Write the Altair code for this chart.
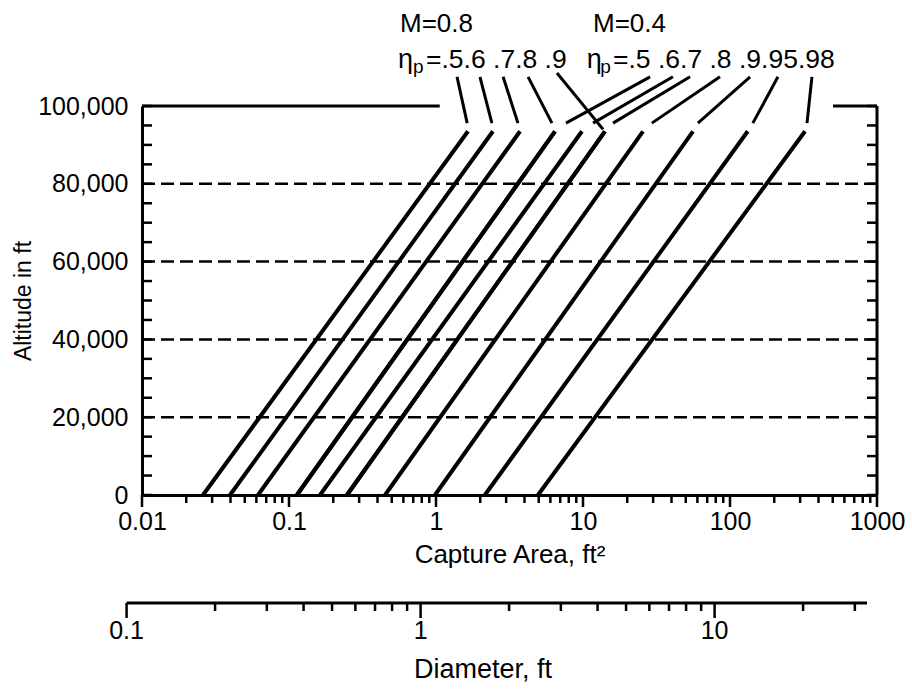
import altair as alt
import pandas as pd

W, H = 735, 389
FONT = "Liberation Sans"

# ---- series: Mach number, propeller efficiency, capture area at sea level and at top altitude
mach = ["0.8"] * 5 + ["0.4"] * 7
eta = [".5", ".6", ".7", ".8", ".9", ".5", ".6", ".7", ".8", ".9", ".95", ".98"]
area_sea_level = [0.0260, 0.0397, 0.0615, 0.1132, 0.248,
                  0.1132, 0.1626, 0.248, 0.450, 0.984, 2.15, 4.94]
area_top = [1.65, 2.44, 3.73, 6.45, 14.1,
            6.45, 9.84, 14.1, 25.6, 56.0, 132, 324]
alt_top = 93500

# ---- leader lines (label end -> curve end), capture area / altitude
leader_top_area = [1.39, 1.99, 2.86, 4.23, 6.65, 28.6, 40.9, 53.5, 85.5, 137, 212, 361]
leader_top_alt = [107500] * 4 + [108500] + [107500] * 7
leader_bot_area = [1.63, 2.40, 3.61, 6.15, 13.7, 7.66, 11.7, 16.0, 29.4, 60.5, 143, 334]
leader_bot_alt = [95600] * 4 + [94000] + [95600] * 7

# ---- annotation texts
ann_text = ["M=0.8", "M=0.4", "η", "η", "p", "p", "=.5.6 .7.8 .9", "=.5 .6.7 .8 .9.95.98"]
ann_area = [0.569, 11.7, 0.551, 10.6, 0.698, 13.1, 0.855, 16.0]
ann_alt = [121100, 121100, 111800, 111800, 110000, 110000, 111800, 111800]
ann_size = [26, 26, 27, 27, 19, 19, 26.5, 26.5]

# ---- axes
y_labels = [0, 20000, 40000, 60000, 80000, 100000]
y_minor = list(range(0, 100001, 5000))
grid_alts = [20000, 40000, 60000, 80000]
x_decades = [0.01, 0.1, 1, 10, 100, 1000]
x_minor = [m * d for d in [0.01, 0.1, 1, 10, 100] for m in range(2, 10)]
top_border_from = [0.01, 502]
top_border_to = [1.06, 1000]

diam_major = [0.1, 1, 10]
diam_minor = [m * d for d in [0.1, 1] for m in range(2, 10)] + [20, 30]
diam_labels = ["0.1", "1", "10"]
diam_line = [0.1, 33]
diam_title_D = 1.63

xs = alt.Scale(type="log", domain=[0.01, 1000])
ys = alt.Scale(domain=[0, 100000])

lines_df = pd.DataFrame({
    "series": [f"M={m} ηp={e}" for m, e in zip(mach, eta)] * 2,
    "area": area_sea_level + area_top,
    "altitude": [0] * len(mach) + [alt_top] * len(mach),
})

lines = alt.Chart(lines_df).mark_line(color="black", strokeWidth=4).encode(
    x=alt.X("area:Q", scale=xs, axis=alt.Axis(
        values=x_decades, format="~g", ticks=False, tickSize=0, grid=False,
        domainColor="black", domainWidth=3,
        labelFont=FONT, labelFontSize=25, labelColor="black",
        labelBaseline="middle", labelPadding=26, labelFlush=False,
        title="Capture Area, ft²", titleFont=FONT, titleFontSize=26,
        titleFontWeight="normal", titleColor="black",
        titleY=59, titleBaseline="middle")),
    y=alt.Y("altitude:Q", scale=ys, axis=alt.Axis(
        values=y_labels, format=",d", ticks=False, tickSize=0, grid=False,
        domainColor="black", domainWidth=3,
        labelFont=FONT, labelFontSize=25, labelColor="black", labelPadding=14,
        title="Altitude in ft", titleFont=FONT, titleFontSize=23,
        titleFontWeight="normal", titleColor="black",
        titleX=-119, titleY=H / 2, titleAngle=270, titleBaseline="middle",
        titleAlign="center")),
    detail="series:N",
)

grid = alt.Chart(pd.DataFrame({"altitude": grid_alts})).mark_rule(
    color="black", strokeWidth=2.5, strokeDash=[13, 6]).encode(
    y=alt.Y("altitude:Q", scale=ys))

ytick_df = pd.DataFrame({"altitude": y_minor})
left_ticks = alt.Chart(ytick_df).mark_rule(color="black", strokeWidth=2.5).encode(
    y=alt.Y("altitude:Q", scale=ys), x=alt.value(0), x2=alt.value(10))
right_ticks = alt.Chart(ytick_df).mark_rule(color="black", strokeWidth=2.5).encode(
    y=alt.Y("altitude:Q", scale=ys), x=alt.value(W), x2=alt.value(W - 10))

right_border = alt.Chart(pd.DataFrame({"a0": [0], "a1": [100000]})).mark_rule(
    color="black", strokeWidth=3).encode(
    y=alt.Y("a0:Q", scale=ys), y2="a1:Q", x=alt.value(W))

top_border = alt.Chart(pd.DataFrame({
    "x0": top_border_from, "x1": top_border_to, "altitude": [100000] * 2})).mark_rule(
    color="black", strokeWidth=3).encode(
    x=alt.X("x0:Q", scale=xs), x2="x1:Q", y=alt.Y("altitude:Q", scale=ys))

xminor_ticks = alt.Chart(pd.DataFrame({"area": x_minor})).mark_rule(
    color="black", strokeWidth=2.5).encode(
    x=alt.X("area:Q", scale=xs), y=alt.value(H), y2=alt.value(H + 8))
xmajor_ticks = alt.Chart(pd.DataFrame({"area": x_decades})).mark_rule(
    color="black", strokeWidth=2.5).encode(
    x=alt.X("area:Q", scale=xs), y=alt.value(H), y2=alt.value(H + 12))

leaders = alt.Chart(pd.DataFrame({
    "x0": leader_top_area, "y0": leader_top_alt,
    "x1": leader_bot_area, "y1": leader_bot_alt})).mark_rule(
    color="black", strokeWidth=3).encode(
    x=alt.X("x0:Q", scale=xs), y=alt.Y("y0:Q", scale=ys), x2="x1:Q", y2="y1:Q")

ann = alt.Chart(pd.DataFrame({
    "text": ann_text, "area": ann_area, "altitude": ann_alt, "fs": ann_size})).mark_text(
    align="left", baseline="middle", font=FONT, color="black").encode(
    x=alt.X("area:Q", scale=xs), y=alt.Y("altitude:Q", scale=ys),
    text="text:N", size=alt.Size("fs:Q", scale=None, legend=None))

# ---- secondary diameter axis (A = pi D^2 / 4)
DY = H + 108
diam_axis_line = alt.Chart(pd.DataFrame({"D0": [diam_line[0]], "D1": [diam_line[1]]})).transform_calculate(
    a0="PI*datum.D0*datum.D0/4", a1="PI*datum.D1*datum.D1/4").mark_rule(
    color="black", strokeWidth=3).encode(
    x=alt.X("a0:Q", scale=xs), x2="a1:Q", y=alt.value(DY))
diam_minor_ticks = alt.Chart(pd.DataFrame({"D": diam_minor})).transform_calculate(
    area="PI*datum.D*datum.D/4").mark_rule(color="black", strokeWidth=2.5).encode(
    x=alt.X("area:Q", scale=xs), y=alt.value(DY), y2=alt.value(DY + 8))
diam_major_ticks = alt.Chart(pd.DataFrame({"D": diam_major})).transform_calculate(
    area="PI*datum.D*datum.D/4").mark_rule(color="black", strokeWidth=2.5).encode(
    x=alt.X("area:Q", scale=xs), y=alt.value(DY), y2=alt.value(DY + 15))
diam_text = alt.Chart(pd.DataFrame({"D": diam_major, "label": diam_labels})).transform_calculate(
    area="PI*datum.D*datum.D/4").mark_text(
    font=FONT, fontSize=25, color="black", baseline="middle", align="center").encode(
    x=alt.X("area:Q", scale=xs), y=alt.value(DY + 28), text="label:N")
diam_title = alt.Chart(pd.DataFrame({"D": [diam_title_D], "label": ["Diameter, ft"]})).transform_calculate(
    area="PI*datum.D*datum.D/4").mark_text(
    font=FONT, fontSize=27, color="black", baseline="middle", align="center").encode(
    x=alt.X("area:Q", scale=xs), y=alt.value(DY + 67), text="label:N")

chart = alt.layer(
    grid, lines, left_ticks, right_ticks, right_border, top_border,
    xminor_ticks, xmajor_ticks, leaders, ann,
    diam_axis_line, diam_minor_ticks, diam_major_ticks, diam_text, diam_title,
).properties(
    width=W, height=H,
    padding={"left": 142, "top": 106, "right": 35, "bottom": 199},
    autosize=alt.AutoSizeParams(type="none"),
    background="white",
).configure_view(stroke=None)

chart.save("out.html", embed_options={"renderer": "svg", "actions": False})
